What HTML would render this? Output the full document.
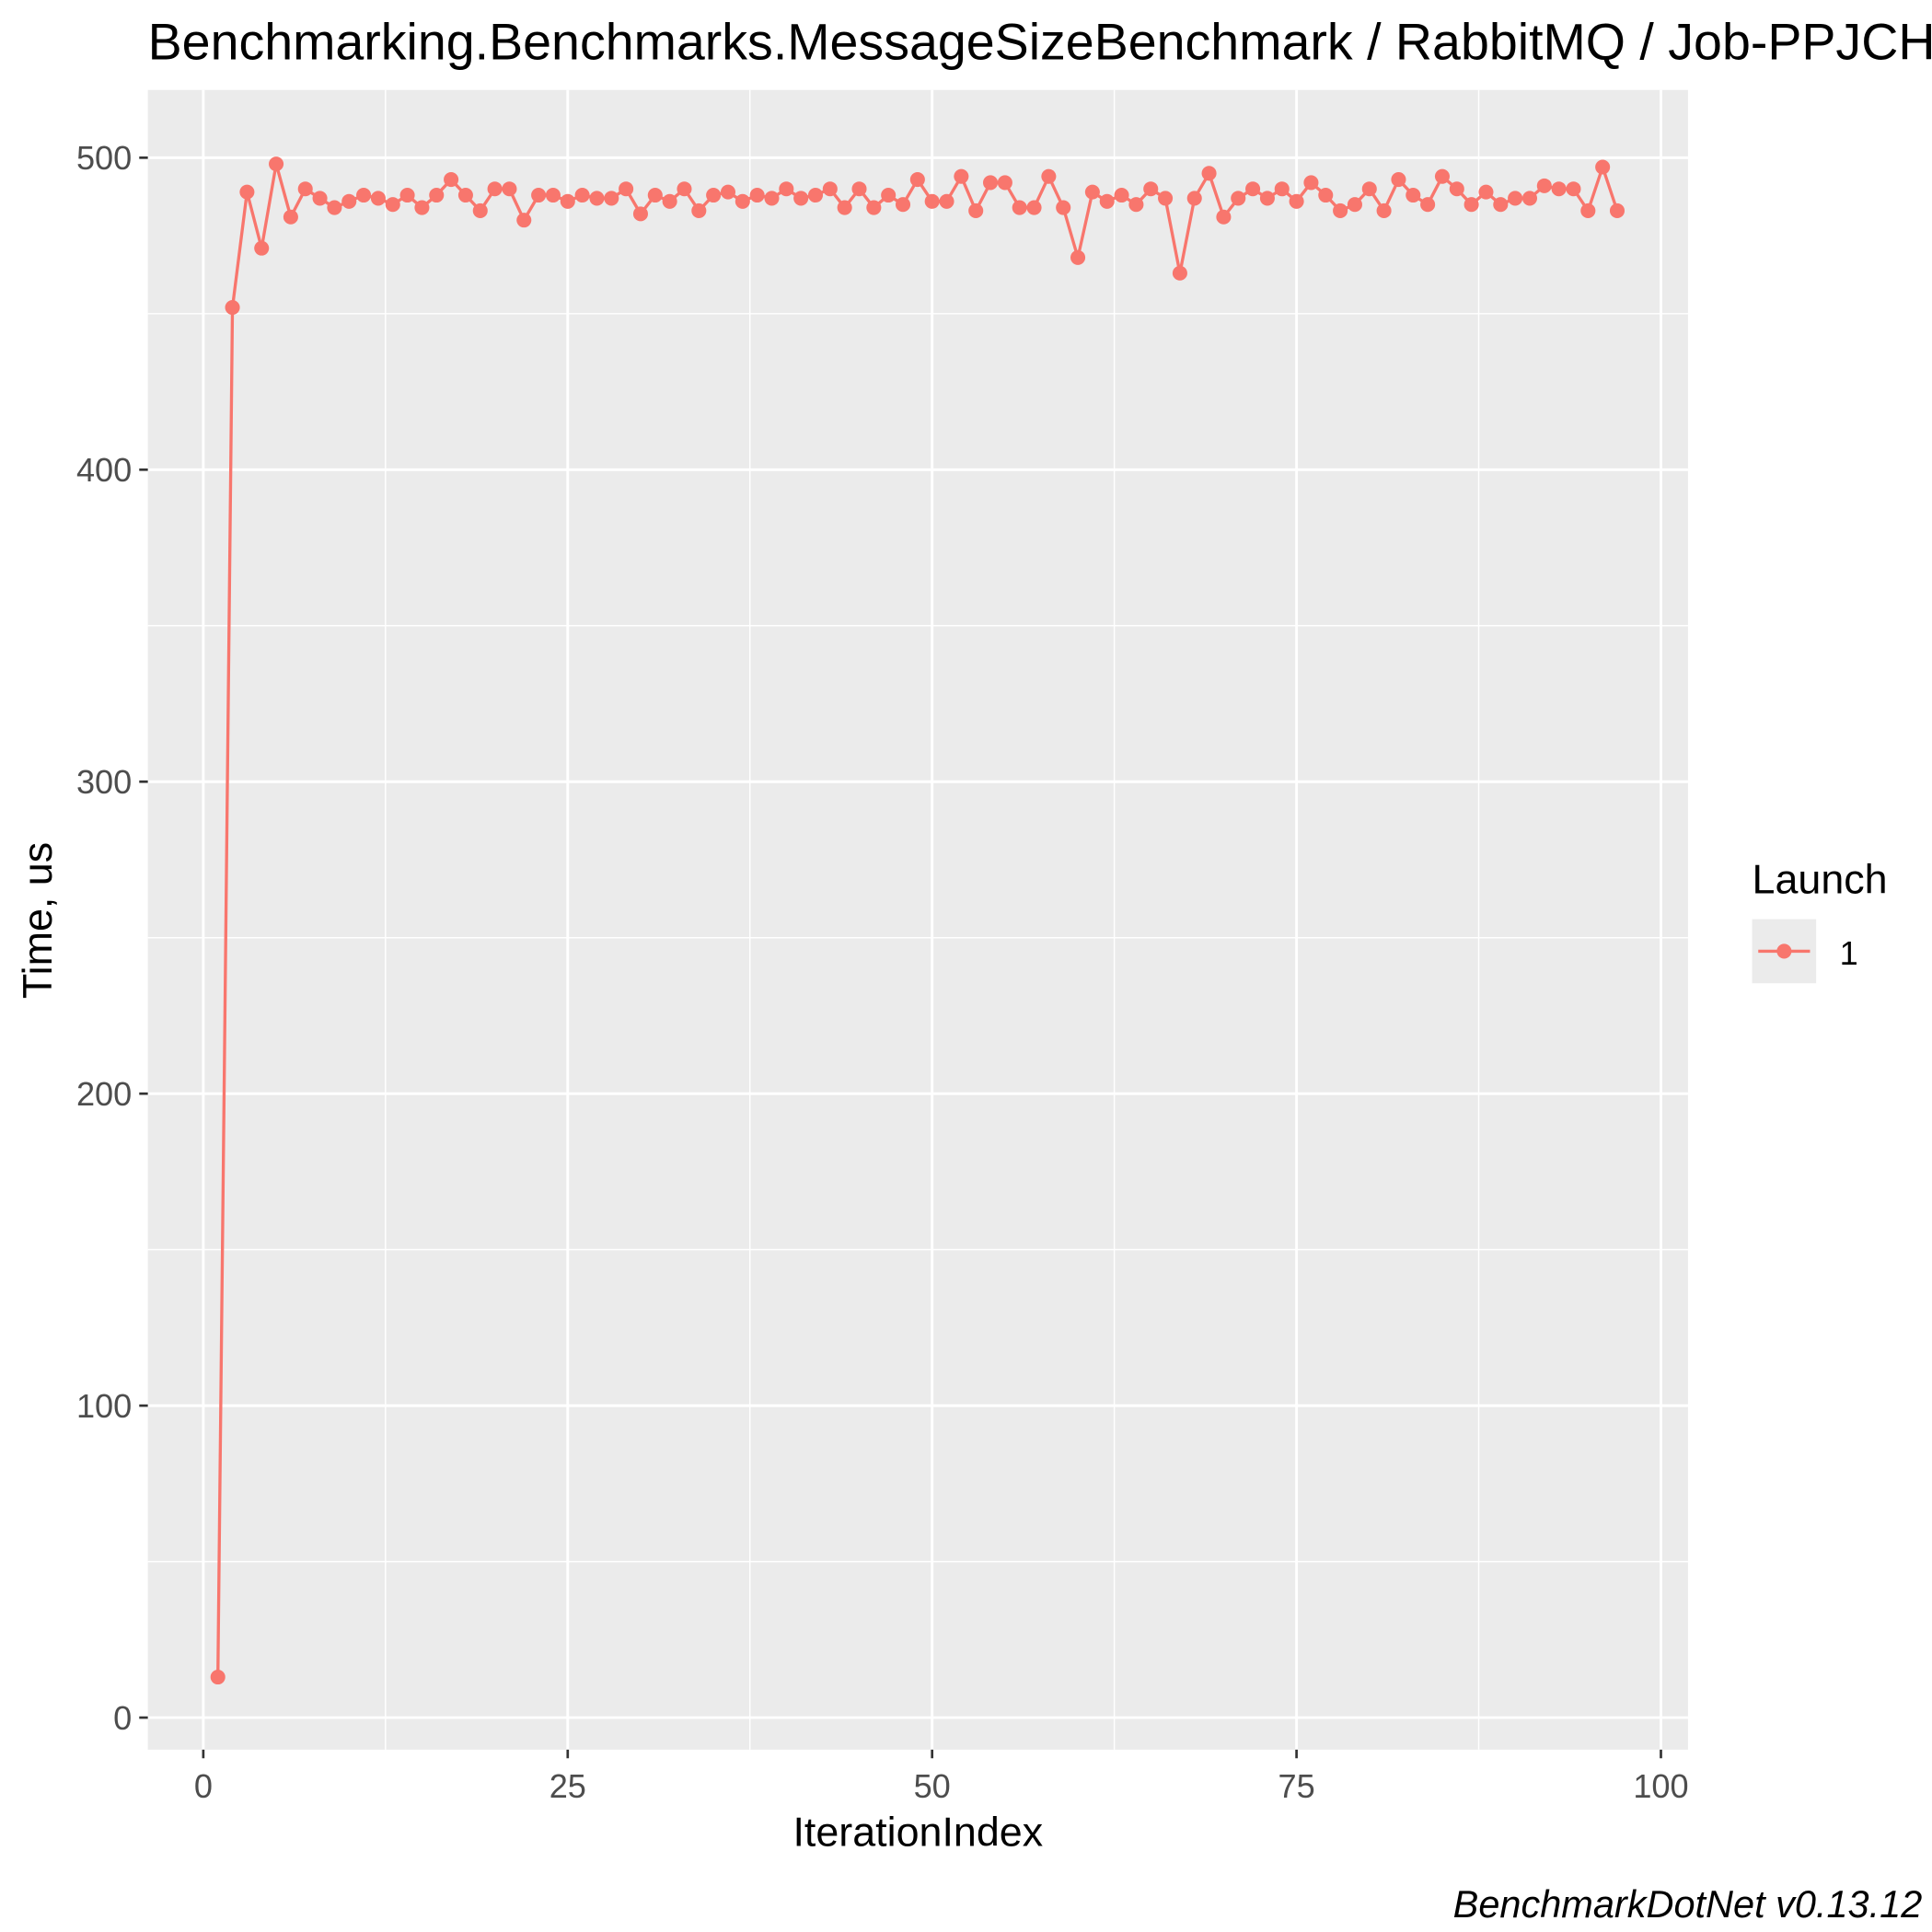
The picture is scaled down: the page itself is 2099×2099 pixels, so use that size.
<!DOCTYPE html>
<html><head><meta charset="utf-8"><style>
html,body{margin:0;padding:0;background:#fff;overflow:hidden;}
svg{display:block;font-family:"Liberation Sans",Arial,sans-serif;}
</style></head><body>
<svg id="chart" width="2099" height="2099" viewBox="0 0 1568 1568" xmlns="http://www.w3.org/2000/svg">
<text x="120" y="48" font-size="41.5" fill="#000">Benchmarking.Benchmarks.MessageSizeBenchmark / RabbitMQ / Job-PPJCHA</text>
<rect x="120" y="73" width="1250" height="1347" fill="#ebebeb"/>
<g id="grid"></g>
<g id="series"></g>
<g id="axes"></g>
<text x="745" y="1498" font-size="33.5" text-anchor="middle" fill="#000">IterationIndex</text>
<text transform="translate(42,747) rotate(-90)" font-size="33.5" text-anchor="middle" fill="#000">Time, us</text>
<g>
<text x="1422" y="725" font-size="33.5" fill="#000">Launch</text>
<rect x="1422" y="746" width="52" height="52" fill="#ebebeb"/>
<line x1="1427" y1="772" x2="1469" y2="772" stroke="#F8766D" stroke-width="2.5"/>
<circle cx="1448" cy="772" r="6" fill="#F8766D"/>
<text x="1493" y="783" font-size="27" fill="#000">1</text>
</g>
<text x="1560" y="1556" font-size="31" font-style="italic" text-anchor="end" fill="#000">BenchmarkDotNet v0.13.12</text>
</svg>
<script>
const iterations = [];
for (let i = 1; i <= 97; i++) iterations.push(i);
const times = [13,452,489,471,498,481,490,487,484,486,488,487,485,488,484,488,493,488,483,490,490,480,488,488,486,488,487,487,490,482,488,486,490,483,488,489,486,488,487,490,487,488,490,484,490,484,488,485,493,486,486,494,483,492,492,484,484,494,484,468,489,486,488,485,490,487,463,487,495,481,487,490,487,490,486,492,488,483,485,490,483,493,488,485,494,490,485,489,485,487,487,491,490,490,483,497,483];
const xTicks = [0,25,50,75,100];
const yTicks = [0,100,200,300,400,500];
const xMinor = [12.5,37.5,62.5,87.5];
const yMinor = [50,150,250,350,450];

const NS = "http://www.w3.org/2000/svg";
const PL = 120, PR = 1370, PT = 73, PB = 1420;
function xs(v){ return 165 + v * (1348 - 165) / 100; }
function ys(v){ return 1394 - v * (1394 - 128) / 500; }
function mk(tag, attrs, parent){ const e = document.createElementNS(NS, tag); for (const k in attrs) e.setAttribute(k, attrs[k]); parent.appendChild(e); return e; }

const grid = document.getElementById('grid');
xMinor.forEach(v => { const l = mk('line', {x1: xs(v), x2: xs(v), y1: PT, y2: PB, stroke: '#fff', 'stroke-width': 1.1}, grid);
  
   });
yMinor.forEach(v => { const l = mk('line', {x1: PL, x2: PR, y1: ys(v), y2: ys(v), stroke: '#fff', 'stroke-width': 1.1}, grid);
  
   });
xTicks.forEach(v => { const l = mk('line', {x1: xs(v), x2: xs(v), y1: PT, y2: PB, stroke: '#fff', 'stroke-width': 2.2}, grid);
  
   });
yTicks.forEach(v => { const l = mk('line', {x1: PL, x2: PR, y1: ys(v), y2: ys(v), stroke: '#fff', 'stroke-width': 2.2}, grid);
  
   });

const axes = document.getElementById('axes');
xTicks.forEach(v => {
  const t = mk('line', {x1: xs(v), x2: xs(v), y1: PB, y2: PB + 7, stroke: '#333', 'stroke-width': 2}, axes);
  
  
  const lb = mk('text', {x: xs(v), y: PB + 39, 'font-size': 27, 'text-anchor': 'middle', fill: '#4d4d4d'}, axes);
  lb.textContent = v;
  
  
});
yTicks.forEach(v => {
  const t = mk('line', {x1: PL - 7, x2: PL, y1: ys(v), y2: ys(v), stroke: '#333', 'stroke-width': 2}, axes);
  
  
  const lb = mk('text', {x: PL - 13, y: ys(v) + 9.5, 'font-size': 27, 'text-anchor': 'end', fill: '#4d4d4d'}, axes);
  lb.textContent = v;
  
  
});

const series = document.getElementById('series');
const pts = times.map((t, i) => xs(iterations[i]) + ',' + ys(t)).join(' ');
const line = mk('polyline', {points: pts, fill: 'none', stroke: '#F8766D', 'stroke-width': 2.5, 'stroke-linejoin': 'round'}, series);


times.forEach((t, i) => {
  const c = mk('circle', {cx: xs(iterations[i]), cy: ys(t), r: 6, fill: '#F8766D'}, series);
  
  
});
</script>
</body></html>
